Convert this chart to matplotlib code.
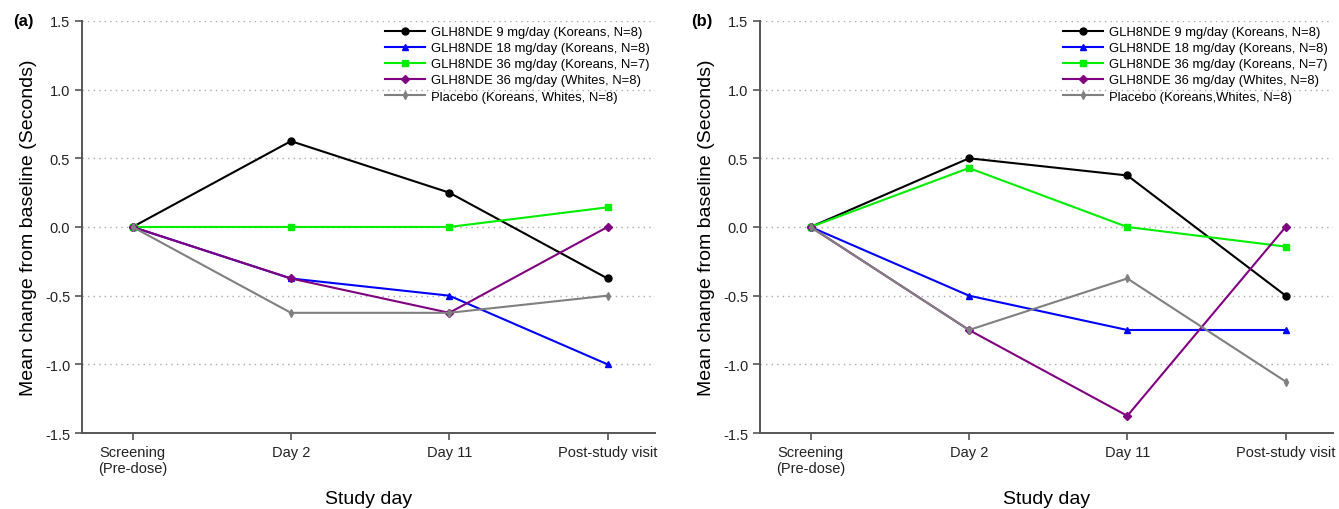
import numpy as np
import matplotlib.pyplot as plt

plt.rcParams['font.family'] = ['Liberation Sans', 'DejaVu Sans']

# Study visits
visits = ['Screening\n(Pre-dose)', 'Day 2', 'Day 11', 'Post-study visit']

# Panel (a)
a_9k = [0, 0.625, 0.25, -0.375]
a_18k = [0, -0.375, -0.5, -1.0]
a_36k = [0, 0, 0, 0.143]
a_36w = [0, -0.375, -0.625, 0]
a_pbo = [0, -0.625, -0.625, -0.5]

# Panel (b)
b_9k = [0, 0.5, 0.375, -0.5]
b_18k = [0, -0.5, -0.75, -0.75]
b_36k = [0, 0.429, 0, -0.143]
b_36w = [0, -0.75, -1.375, 0]
b_pbo = [0, -0.75, -0.375, -1.125]

labels_a = ['GLH8NDE 9 mg/day (Koreans, N=8)',
            'GLH8NDE 18 mg/day (Koreans, N=8)',
            'GLH8NDE 36 mg/day (Koreans, N=7)',
            'GLH8NDE 36 mg/day (Whites, N=8)',
            'Placebo (Koreans, Whites, N=8)']
labels_b = labels_a[:4] + ['Placebo (Koreans,Whites, N=8)']

styles = [('black', 'o', 5),
          ('#0000ff', '^', 5),
          ('#00ee00', 's', 5),
          ('#800080', 'D', 4.5),
          ('gray', 'd', 4)]

fig = plt.figure(figsize=(13.39, 5.10), dpi=100)
ax_a = fig.add_axes([0.0612, 0.149, 0.428, 0.808])
ax_b = fig.add_axes([0.5676, 0.149, 0.428, 0.808])

x = np.arange(len(visits))


def draw(ax, series, labels, tag):
    for y, lab, (c, m, ms) in zip(series, labels, styles):
        ax.plot(x, y, color=c, marker=m, markersize=ms, lw=1.5, label=lab)
    ax.set_xlim(-0.32, 3.3)
    ax.set_ylim(-1.5, 1.5)
    ax.set_yticks(np.arange(-1.5, 1.51, 0.5))
    ax.set_yticklabels([f'{v:.1f}' for v in np.arange(-1.5, 1.51, 0.5)])
    ax.set_xticks(x)
    ax.set_xticklabels(visits, fontsize=10.5, color='#222222')
    for lab in ax.get_yticklabels():
        lab.set_fontsize(10.5)
        lab.set_color('#222222')
    ax.yaxis.grid(True, linestyle=(0, (1, 3)), color='#aaaaaa', lw=1)
    ax.set_axisbelow(True)
    for s in ['top', 'right']:
        ax.spines[s].set_visible(False)
    for s in ['left', 'bottom']:
        ax.spines[s].set_color('#555555')
        ax.spines[s].set_linewidth(1.4)
    ax.tick_params(color='#555555', length=5, width=1.2)
    ax.set_ylabel('Mean change from baseline (Seconds)', fontsize=14, labelpad=6)
    ax.set_xlabel('Study day', fontsize=14, labelpad=11)
    ax.legend(loc='upper right', bbox_to_anchor=(1.0, 1.0), frameon=False,
              fontsize=9.4, handlelength=3, labelspacing=0.3,
              handletextpad=0.5, borderaxespad=0.0)
    ax.text(-0.12, 1.0, tag, transform=ax.transAxes, fontsize=12,
            fontweight='bold', va='center', ha='left')


draw(ax_a, [a_9k, a_18k, a_36k, a_36w, a_pbo], labels_a, '(a)')
draw(ax_b, [b_9k, b_18k, b_36k, b_36w, b_pbo], labels_b, '(b)')

fig.savefig('out.png', dpi=100)
